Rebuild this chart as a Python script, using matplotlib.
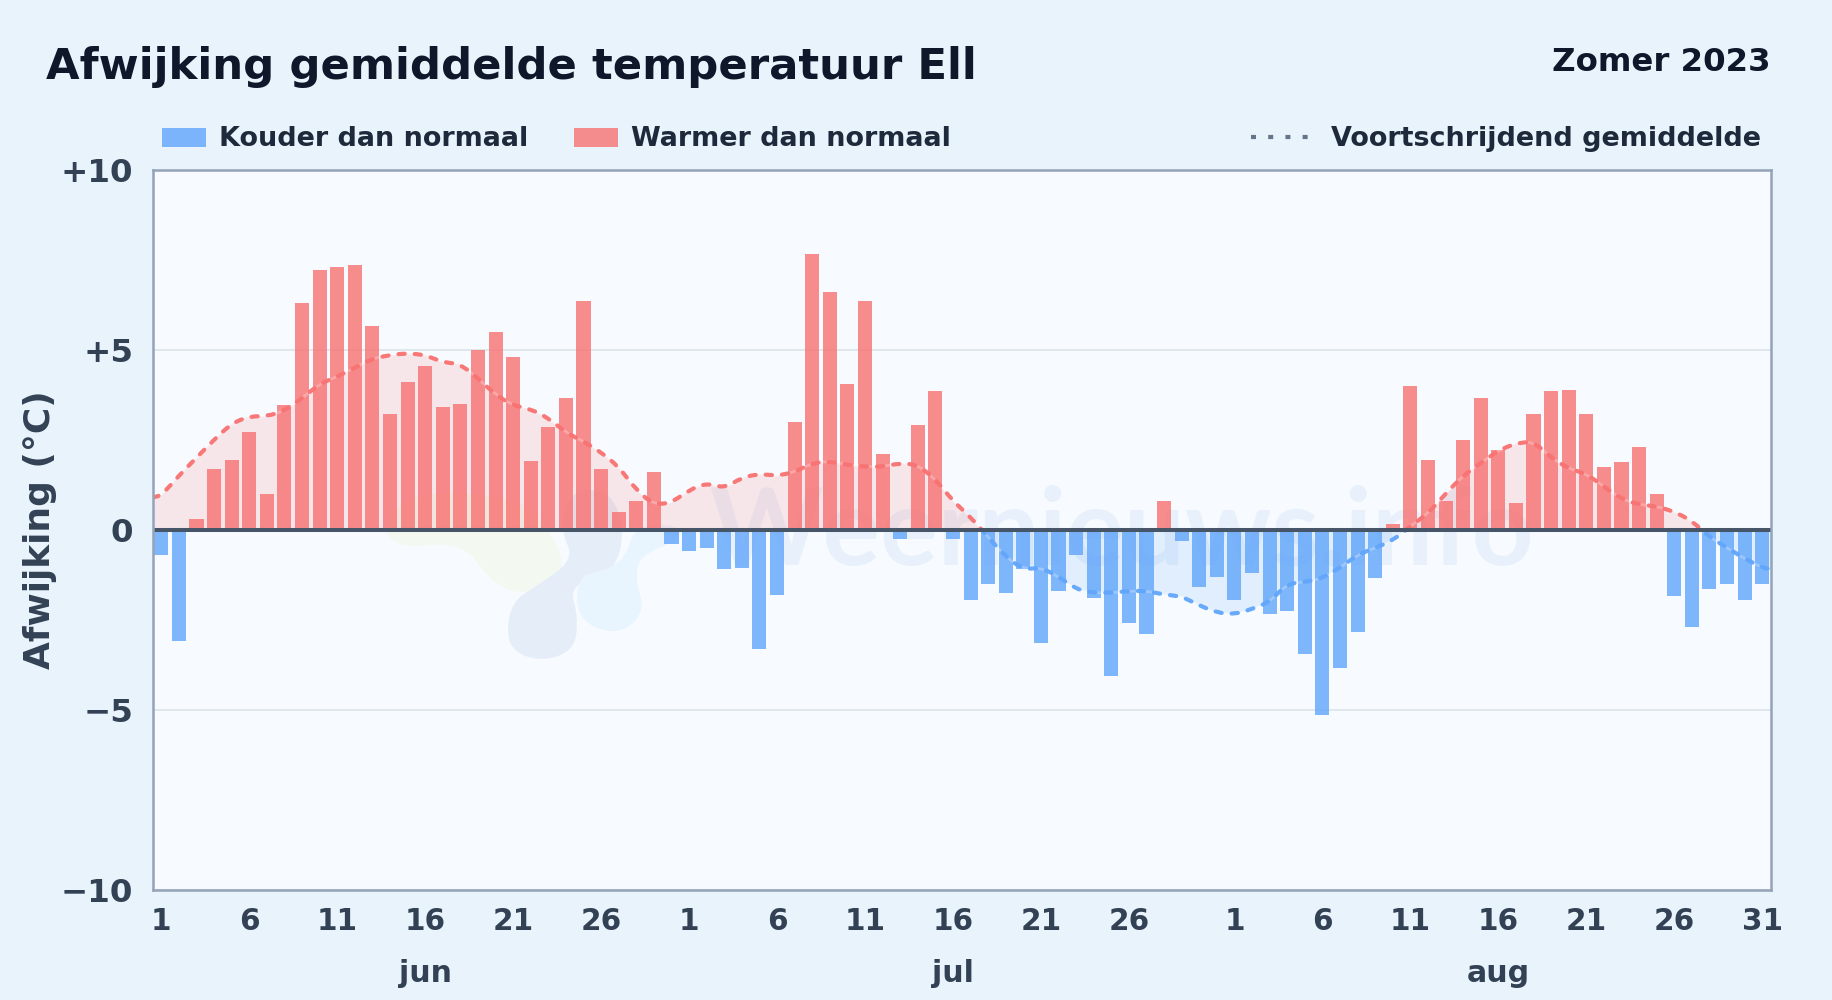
#!/usr/bin/env python3
"""Afwijking gemiddelde temperatuur Ell, zomer 2023."""

import matplotlib

matplotlib.use("Agg")
import matplotlib.pyplot as plt
import numpy as np
from matplotlib.patches import PathPatch, Rectangle
from matplotlib.path import Path
from matplotlib.transforms import blended_transform_factory

WIDTH = 1832
HEIGHT = 1000
AXES_LEFT, AXES_RIGHT, AXES_TOP, AXES_BOTTOM = 152.5, 1771, 169.5, 890

june = [
    -0.7, -3.1, 0.3, 1.7, 1.95, 2.7, 1.0, 3.45, 6.3, 7.2,
    7.3, 7.35, 5.65, 3.2, 4.1, 4.55, 3.4, 3.5, 5.0, 5.5,
    4.8, 1.9, 2.85, 3.65, 6.35, 1.7, 0.5, 0.8, 1.6, -0.4,
]
july = [
    -0.6, -0.5, -1.1, -1.05, -3.3, -1.8, 3.0, 7.65, 6.6, 4.05,
    6.35, 2.1, -0.25, 2.9, 3.85, -0.25, -1.95, -1.5, -1.75, -1.1,
    -3.15, -1.7, -0.7, -1.9, -4.05, -2.6, -2.9, 0.8, -0.3, -1.6,
    -1.3,
]
august = [
    -1.95, -1.2, -2.35, -2.25, -3.45, -5.15, -3.85, -2.85, -1.35, 0.15,
    4.0, 1.95, 0.8, 2.5, 3.65, 2.2, 0.75, 3.2, 3.85, 3.88,
    3.2, 1.75, 1.88, 2.3, 0.98, -1.85, -2.7, -1.65, -1.5, -1.95,
    -1.5,
]
rolling_mean = [
    0.95, 1.5, 2.0, 2.5, 2.95, 3.15, 3.15, 3.3, 3.65, 4.05,
    4.25, 4.5, 4.75, 4.85, 4.9, 4.85, 4.65, 4.6, 4.2, 3.75,
    3.45, 3.35, 3.1, 2.7, 2.45, 2.15, 1.75, 1.1, 0.7, 0.75,
    1.1, 1.3, 1.15, 1.45, 1.55, 1.5, 1.6, 1.85, 1.9, 1.8,
    1.75, 1.75, 1.85, 1.8, 1.4, 0.8, 0.35, -0.2, -0.75, -1.1,
    -1.05, -1.3, -1.65, -1.75, -1.75, -1.7, -1.7, -1.8, -1.85, -2.1,
    -2.3, -2.35, -2.2, -2.0, -1.5, -1.45, -1.35, -1.05, -0.7, -0.5,
    -0.3, 0.1, 0.45, 1.0, 1.5, 1.85, 2.2, 2.4, 2.45, 2.0,
    1.7, 1.55, 1.2, 0.85, 0.7, 0.65, 0.5, 0.25, -0.2, -0.5,
    -0.8, -1.05,
]
month_names = ["jun", "jul", "aug"]
y_ticks = [10, 5, 0, -5, -10]
y_tick_labels = ["+10", "+5", "0", "\u22125", "\u221210"]

# watermark logo, traced in reference pixels
logo_green = [
    (383, 533), (403, 548), (445, 543), (470, 552), (490, 580), (517, 595),
    (552, 585), (565, 563), (552, 535), (525, 500), (440, 490), (395, 505),
]
logo_grey = [
    (507, 622), (510, 650), (541, 662), (575, 650), (578, 615), (570, 590),
    (590, 578), (615, 570), (625, 530), (610, 490), (570, 490), (560, 530),
    (575, 560), (530, 590), (515, 600),
]
logo_blue = [
    (580, 575), (575, 610), (595, 630), (625, 632), (645, 610), (635, 580),
    (640, 555), (680, 540), (680, 525), (635, 525), (625, 560), (600, 572),
]

RED = "#f87171"
BLUE = "#60a5fa"
INK = "#0f172a"
LABEL = "#1e293b"
TICK = "#334155"


def fig_x(px):
    return px / WIDTH


def fig_y(px):
    return 1 - px / HEIGHT


def size(px):
    # font size in points for a size given in pixels at dpi 100
    return px * 0.72


def add_blob(axes, points, color):
    # closed quadratic spline through the midpoints of the traced polygon
    points = np.array(points, dtype=float)
    points[:, 0] = (points[:, 0] - AXES_LEFT) / (AXES_RIGHT - AXES_LEFT)
    points[:, 1] = (AXES_BOTTOM - points[:, 1]) / (AXES_BOTTOM - AXES_TOP)
    middles = (points + np.roll(points, -1, axis=0)) / 2
    vertices = [middles[-1]]
    codes = [Path.MOVETO]
    for corner, middle in zip(points, middles):
        vertices += [corner, middle]
        codes += [Path.CURVE3, Path.CURVE3]
    axes.add_patch(
        PathPatch(Path(vertices, codes), facecolor=color, edgecolor="none",
                  transform=axes.transAxes, zorder=0.5)
    )


def smooth_path(x_values, y_values):
    # the data points act as curve controls, so the line rounds off between days
    points = np.column_stack([x_values, y_values])
    middles = (points[:-1] + points[1:]) / 2
    vertices = [points[0], middles[0]]
    codes = [Path.MOVETO, Path.LINETO]
    for corner, middle in zip(points[1:-1], middles[1:]):
        vertices += [corner, middle]
        codes += [Path.CURVE3, Path.CURVE3]
    vertices.append(points[-1])
    codes.append(Path.LINETO)
    return Path(vertices, codes)


def main():
    values = np.array(june + july + august)
    mean = np.array(rolling_mean)
    days = np.arange(len(values))
    line_x = np.r_[-0.5, days, len(values) - 0.5]
    line_y = np.r_[mean[0] - 0.05, mean, mean[-1] - 0.05]

    figure = plt.figure(figsize=(WIDTH / 100, HEIGHT / 100), dpi=100)
    figure.patch.set_facecolor("#e8f3fc")
    axes = figure.add_axes([
        fig_x(AXES_LEFT),
        fig_y(AXES_BOTTOM),
        fig_x(AXES_RIGHT - AXES_LEFT),
        (AXES_BOTTOM - AXES_TOP) / HEIGHT,
    ])
    axes.set_facecolor("#f7fbff")

    add_blob(axes, logo_green, "#f3f9f1")
    add_blob(axes, logo_grey, "#e5eef8")
    add_blob(axes, logo_blue, "#e8f4fe")
    axes.text((1121 - AXES_LEFT) / (AXES_RIGHT - AXES_LEFT),
              (AXES_BOTTOM - 565) / (AXES_BOTTOM - AXES_TOP),
              "Weernieuws.info", transform=axes.transAxes, color="#e8f1fb",
              fontsize=size(108), fontweight="bold", family="Lato", ha="center",
              va="baseline", zorder=0.6)

    axes.fill_between(line_x, line_y, 0, where=line_y >= 0, interpolate=True,
                      color=RED, alpha=0.15, linewidth=0, zorder=1)
    axes.fill_between(line_x, line_y, 0, where=line_y <= 0, interpolate=True,
                      color=BLUE, alpha=0.15, linewidth=0, zorder=1)

    axes.bar(days, values, width=0.8, zorder=2, linewidth=0, alpha=0.8,
             color=[RED if value > 0 else BLUE for value in values])

    # one dashed line, coloured by which side of zero it is on
    mean_path = smooth_path(line_x, line_y)
    axes.add_patch(PathPatch(mean_path, fill=False, edgecolor="white", alpha=0.25,
                             linewidth=2.0, zorder=2.5))
    for color, bottom in ((RED, 0), (BLUE, -10)):
        patch = PathPatch(mean_path, fill=False, edgecolor=color, alpha=0.95,
                          linewidth=3.0, linestyle=(0, (1.5, 2.4)),
                          capstyle="round", joinstyle="round", zorder=3)
        axes.add_patch(patch)
        patch.set_clip_path(Rectangle((-0.5, bottom), len(values), 10,
                                      transform=axes.transData))

    axes.axhline(0, color="#475569", linewidth=2.9, zorder=4)
    axes.set_xlim(-0.5, len(values) - 0.5)
    axes.set_ylim(-10, 10)
    axes.set_yticks(y_ticks, y_tick_labels, fontsize=size(32.5), fontweight="bold",
                    color=TICK)
    axes.grid(True, axis="y", color="#dde5ea", linewidth=1.3, zorder=0.7)
    axes.set_axisbelow(True)

    tick_days = []
    tick_labels = []
    month_centers = []
    start = 0
    for month in (june, july, august):
        for day in range(0, len(month), 5):
            # july stops at 26, only august shows its last day
            if month is july and day == 30:
                continue
            tick_days.append(start + day)
            tick_labels.append(str(day + 1))
        month_centers.append(start + 15)
        start += len(month)
    axes.set_xticks(tick_days, tick_labels, fontsize=size(29.5), fontweight="bold",
                    color=TICK)
    axes.tick_params(axis="both", length=0)
    axes.tick_params(axis="x", pad=12)
    axes.tick_params(axis="y", pad=14)
    for spine in axes.spines.values():
        spine.set_color("#94a3b8")
        spine.set_linewidth(1.8)
        spine.set_zorder(5)

    month_transform = blended_transform_factory(axes.transData, figure.transFigure)
    for center, name in zip(month_centers, month_names):
        axes.text(center, fig_y(973), name, transform=month_transform, ha="center",
                  va="center", fontsize=size(30), fontweight="bold", color=TICK)

    figure.text(fig_x(46), fig_y(79), "Afwijking gemiddelde temperatuur Ell",
                fontsize=size(43.4), fontweight="bold", color=INK)
    figure.text(fig_x(1771), fig_y(71), "Zomer 2023", ha="right",
                fontsize=size(32.4), fontweight="bold", color=INK)

    for left, color in ((162, BLUE), (574, RED)):
        figure.add_artist(Rectangle((fig_x(left), fig_y(147)), 44 / WIDTH, 19 / HEIGHT,
                                    transform=figure.transFigure, facecolor=color,
                                    alpha=0.8, edgecolor="none"))
    figure.text(fig_x(219), fig_y(139), "Kouder dan normaal", va="center",
                fontsize=size(27), fontweight="bold", color=LABEL)
    figure.text(fig_x(631), fig_y(139), "Warmer dan normaal", va="center",
                fontsize=size(27), fontweight="bold", color=LABEL)
    figure.text(fig_x(1761), fig_y(139), "Voortschrijdend gemiddelde", va="center",
                ha="right", fontsize=size(27), fontweight="bold", color=LABEL)
    figure.add_artist(plt.Line2D([fig_x(1251), fig_x(1308)], [fig_y(137)] * 2,
                                 transform=figure.transFigure, color="#64748b",
                                 linewidth=3, dashes=(1.2, 2.93)))

    figure.text(fig_x(40), fig_y(530), "Afwijking (\u00b0C)", rotation=90, ha="center",
                va="center", fontsize=size(36), fontweight="bold", color=TICK)

    figure.savefig("out.png", dpi=100, facecolor=figure.get_facecolor())
    plt.close(figure)


if __name__ == "__main__":
    main()
